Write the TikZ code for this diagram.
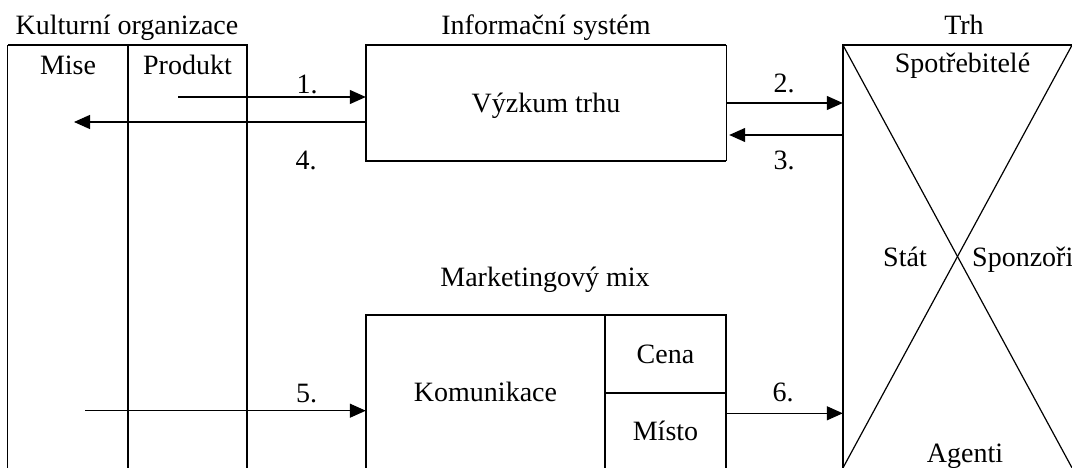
\documentclass[tikz,border=0pt]{standalone}
\usepackage{fontspec}
\setmainfont{Liberation Serif}
\usetikzlibrary{arrows.meta}
\begin{document}
\begin{tikzpicture}[x=1pt,y=-1pt,
  txt/.style={inner sep=0pt, anchor=base, font=\fontsize{28}{34}\selectfont},
  cell/.style={inner sep=0pt, font=\fontsize{28}{34}\selectfont, text height=19pt, text depth=0pt},
  frame/.style={line width=2.2pt},
  rule/.style={line width=1.2pt},
  arr/.style={line width=1.2pt, -{Triangle[length=16pt,width=14pt]}},
]
\useasboundingbox (0,0) rectangle (1072,468);

% cultural organisation: two open columns
\node[minimum width=239pt, minimum height=423pt, inner sep=0pt] (org) at (127.5,256.5) {};
\coordinate (split) at (128,45);
\draw[rule] (org.north west) -- (org.south west);
\draw[rule] (split) -- (split |- org.south);
\draw[frame] (org.south east) -- (org.north east) -- (org.north west);
\node[txt] (orgt) at (127,34.5) {Kulturní organizace};
\node[txt] (mise) at (68,75) {Mise};
\node[txt] (prod) at (187.5,75) {Produkt};

% information system
\node[cell, minimum width=360pt, minimum height=116pt] (info) at (546,103) {Výzkum trhu};
\draw[frame] (info.north east) -- (info.north west) -- (info.south west) -- (info.south east);
\draw[rule] (info.north east) -- (info.south east);
\node[txt] (infot) at (546,34.5) {Informační systém};

% market with its four actors
\node[minimum width=229pt, minimum height=423pt, inner sep=0pt] (mkt) at (957.5,256.5) {};
\draw[frame] (mkt.south west) -- (mkt.north west) -- (mkt.north east);
\draw[rule] (mkt.north west) -- (mkt.south east);
\draw[rule] (mkt.south west) -- (mkt.north east);
\node[txt] (mktt) at (964,34.5) {Trh};
\node[txt] (spot) at (962.5,73) {Spotřebitelé};
\node[txt] (stat) at (905,266) {Stát};
\node[txt, anchor=base west] (spon) at (972,266) {Sponzoři};
\node[txt] (agen) at (965,462) {Agenti};

% marketing mix
\node[cell, minimum width=239pt, minimum height=153pt] (kom) at (485.5,391.5) {Komunikace};
\node[cell, minimum width=121pt, minimum height=78pt] (cena) at (665.5,354) {Cena};
\node[cell, minimum width=121pt, minimum height=75pt] (misto) at (665.5,430.5) {Místo};
\draw[frame] (kom.south west) -- (kom.north west) -- (cena.north east) -- (misto.south east);
\draw[frame] (kom.north east) -- (kom.south east);
\draw[frame] (cena.south west) -- (cena.south east);
\node[txt] (mixt) at (545,287) {Marketingový mix};

% numbered flows
\coordinate (s1) at (178,97);
\draw[arr] (s1) -- (s1 -| info.west);
\node[txt] (n1) at (307,94) {1.};

\coordinate (e4) at (74,122);
\draw[arr] (e4 -| info.west) -- (e4);
\node[txt] (n4) at (306,170) {4.};

\coordinate (y2) at (0,103);
\draw[arr] (info.east |- y2) -- (mkt.west |- y2);
\node[txt] (n2) at (784,93) {2.};

\coordinate (y3) at (0,135);
\draw[arr, shorten >=3pt] (mkt.west |- y3) -- (info.east |- y3);
\node[txt] (n3) at (784,170) {3.};

\coordinate (s5) at (85,410.7);
\draw[arr] (s5) -- (s5 -| kom.west);
\node[txt] (n5) at (306.5,402.7) {5.};

\coordinate (y6) at (0,413.3);
\draw[arr] (cena.east |- y6) -- (mkt.west |- y6);
\node[txt] (n6) at (783,401.7) {6.};
\end{tikzpicture}
\end{document}
